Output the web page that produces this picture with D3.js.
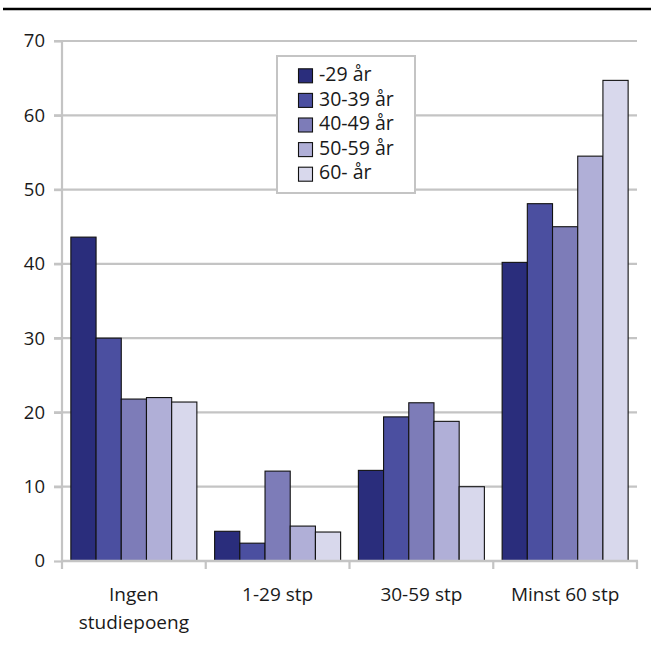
<!DOCTYPE html>
<html>
<head>
<meta charset="utf-8">
<script src="https://cdn.jsdelivr.net/npm/d3@7"></script>
<style>
  html, body { margin: 0; padding: 0; background: #fff; }
  svg { display: block; }
  text { font-family: "Open Sans", "Noto Sans", sans-serif; fill: #1a1a1a; }
</style>
</head>
<body>
<svg id="chart" width="651" height="650"></svg>
<script>
const categories = [["Ingen", "studiepoeng"], ["1-29 stp"], ["30-59 stp"], ["Minst 60 stp"]];
const seriesNames = ["-29 år", "30-39 år", "40-49 år", "50-59 år", "60- år"];
const seriesColors = ["#2a2d7c", "#4b4fa0", "#7d7cb8", "#b0afd7", "#d8d8ec"];
const age29 = [43.6, 4.0, 12.2, 40.2];
const age30_39 = [30.0, 2.4, 19.4, 48.1];
const age40_49 = [21.8, 12.1, 21.3, 45.0];
const age50_59 = [22.0, 4.7, 18.8, 54.5];
const age60 = [21.4, 3.9, 10.0, 64.7];
const seriesValues = [age29, age30_39, age40_49, age50_59, age60];
const yTicks = [0, 10, 20, 30, 40, 50, 60, 70];

const svg = d3.select("#chart");
const pLeft = 62, pRight = 637, pTop = 41, pBottom = 561;

// top rule
svg.append("line").attr("x1", 3).attr("x2", 651).attr("y1", 9).attr("y2", 9)
  .attr("stroke", "#000").attr("stroke-width", 2.5);

const x0 = d3.scaleBand().domain(d3.range(categories.length)).range([pLeft, pRight])
  .paddingInner(0.1235).paddingOuter(0.0617);
const x1 = d3.scaleBand().domain(d3.range(seriesNames.length)).range([0, x0.bandwidth()]);
const y = d3.scaleLinear().domain([0, 70]).range([pBottom, pTop]);

// gridlines
svg.append("g").selectAll("line").data(yTicks.filter(d => d > 0)).join("line")
  .attr("x1", 54).attr("x2", pRight).attr("y1", d => y(d)).attr("y2", d => y(d))
  .attr("stroke", "#c4c4c4").attr("stroke-width", 2.2);

// y axis
const yAxis = d3.axisLeft(y).tickValues(yTicks).tickSize(8).tickPadding(9);
const gy = svg.append("g").attr("transform", `translate(${pLeft},0)`).call(yAxis);
gy.select(".domain").attr("stroke", "#c4c4c4").attr("stroke-width", 2.2)
  .attr("d", `M0,${pTop}V${pBottom}`);
gy.selectAll(".tick line").attr("stroke", "#c4c4c4").attr("stroke-width", 2.2);
gy.selectAll(".tick text").style("font-size", "18.5px").attr("fill", "#1a1a1a")
  .style("font-family", "'Open Sans', sans-serif");

// bars
const groups = svg.append("g").selectAll("g").data(categories.map((c, i) => i)).join("g")
  .attr("transform", i => `translate(${x0(i)},0)`);
groups.selectAll("rect").data(i => seriesValues.map((s, j) => ({ j, v: s[i] }))).join("rect")
  .attr("x", d => x1(d.j)).attr("width", x1.bandwidth())
  .attr("y", d => y(d.v)).attr("height", d => y(0) - y(d.v))
  .attr("fill", d => seriesColors[d.j]).attr("stroke", "#111").attr("stroke-width", 1.1);

// x axis
const xb = d3.scaleLinear().domain([0, categories.length]).range([pLeft, pRight]);
svg.append("line").attr("x1", pLeft - 1).attr("x2", pRight + 1).attr("y1", pBottom).attr("y2", pBottom)
  .attr("stroke", "#c4c4c4").attr("stroke-width", 2.5);
svg.append("g").selectAll("line").data(d3.range(categories.length + 1)).join("line")
  .attr("x1", d => xb(d)).attr("x2", d => xb(d)).attr("y1", pBottom).attr("y2", pBottom + 8)
  .attr("stroke", "#c4c4c4").attr("stroke-width", 2.2);

// x labels
const xl = svg.append("g").selectAll("text").data(categories.map((c, i) => ({ c, i }))).join("text")
  .attr("x", d => x0(d.i) + x0.bandwidth() / 2).attr("y", 601)
  .attr("text-anchor", "middle").style("font-size", "19px");
xl.selectAll("tspan").data(d => d.c.map((t, k) => ({ t, k, x: x0(d.i) + x0.bandwidth() / 2 }))).join("tspan")
  .attr("x", d => d.x).attr("dy", d => d.k === 0 ? 0 : 28).text(d => d.t);

// legend
const lg = svg.append("g").attr("transform", "translate(277,56)");
lg.append("rect").attr("width", 138).attr("height", 137).attr("fill", "#fff")
  .attr("stroke", "#c4c4c4").attr("stroke-width", 2);
const items = lg.selectAll("g.item").data(seriesNames.map((n, j) => ({ n, j }))).join("g")
  .attr("transform", d => `translate(21,${17.3 + d.j * 24.6})`);
items.append("rect").attr("x", 0.5).attr("y", -4.5).attr("width", 14).attr("height", 14)
  .attr("fill", d => seriesColors[d.j]).attr("stroke", "#111").attr("stroke-width", 1.1);
items.append("text").attr("x", 21).attr("y", 2.5).attr("dominant-baseline", "middle")
  .style("font-size", "19.5px").text(d => d.n);
</script>
</body>
</html>
